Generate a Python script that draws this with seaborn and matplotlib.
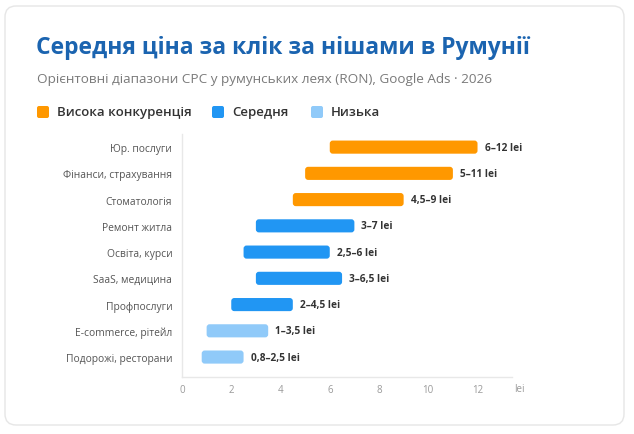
import matplotlib
matplotlib.use("Agg")
import matplotlib.pyplot as plt
from matplotlib.patches import FancyBboxPatch
import numpy as np
import pandas as pd
import seaborn as sns

# data
niches = ["Юр. послуги", "Фінанси, страхування", "Стоматологія", "Ремонт житла",
          "Освіта, курси", "SaaS, медицина", "Профпослуги", "E-commerce, рітейл",
          "Подорожі, ресторани"]
cpc_min = [6, 5, 4.5, 3, 2.5, 3, 2, 1, 0.8]
cpc_max = [12, 11, 9, 7, 6, 6.5, 4.5, 3.5, 2.5]
value_labels = ["6–12 lei", "5–11 lei", "4,5–9 lei", "3–7 lei", "2,5–6 lei",
                "3–6,5 lei", "2–4,5 lei", "1–3,5 lei", "0,8–2,5 lei"]
levels = ["Висока конкуренція"] * 3 + ["Середня"] * 4 + ["Низька"] * 2
level_names = ["Висока конкуренція", "Середня", "Низька"]
level_colors = ["#FF9800", "#2196F3", "#90CAF9"]
x_ticks = [0, 2, 4, 6, 8, 10, 12]

df = pd.DataFrame({"niche": niches, "lo": cpc_min, "hi": cpc_max,
                   "label": value_labels, "level": levels})

sns.set_theme(style="white")
plt.rcParams["font.family"] = ["Open Sans", "DejaVu Sans"]

W, H = 634, 435
fig = plt.figure(figsize=(W / 100, H / 100), dpi=100)
fig.patch.set_facecolor("white")

# card background
card = FancyBboxPatch((5, H - 426), 619, 419, boxstyle="round,pad=0,rounding_size=11",
                      transform=None, facecolor="white", edgecolor="#e6e6e6",
                      linewidth=1.0, zorder=-10)
fig.patches.append(card)

ax = fig.add_axes([182 / W, 1 - 378 / H, (512 - 182) / W, (378 - 135) / H])
ax.set_facecolor("none")
ax.set_zorder(2)

palette = dict(zip(level_names, level_colors))
sns.barplot(data=df, x="hi", y="niche", hue="level", palette=palette,
            hue_order=level_names, dodge=False, legend=False, width=0.5,
            saturation=1, ax=ax)

ax.set_xlim(0, 13.4)
ax.set_ylim(len(niches) - 0.24, -0.5)

# turn each bar into a rounded floating range bar lo..hi
px_x = (512 - 182) / 13.4
px_y = (378 - 135) / (len(niches) + 0.26)
r = 3.0 / px_x
old = list(ax.patches)
for p in old:
    idx = int(round(p.get_y() + p.get_height() / 2))
    row = df.iloc[idx]
    rb = FancyBboxPatch((row.lo, p.get_y()), row.hi - row.lo, p.get_height(),
                        boxstyle=f"round,pad=0,rounding_size={r}",
                        mutation_aspect=px_x / px_y,
                        facecolor=p.get_facecolor(), edgecolor="none", zorder=3)
    p.remove()
    ax.add_patch(rb)
    ax.text(row.hi + 7 / px_x, idx, row.label, va="center", ha="left",
            fontsize=7.3, fontweight="bold", color="#333333")

ax.set_xticks(x_ticks)
ax.set_xticklabels([str(t) for t in x_ticks])
ax.tick_params(axis="x", colors="#9a9a9a", labelsize=7, length=0, pad=5)
ax.tick_params(axis="y", colors="#555555", labelsize=7.4, length=0, pad=7)
ax.set_xlabel("")
ax.set_ylabel("")
for s in ["top", "right"]:
    ax.spines[s].set_visible(False)
for s in ["left", "bottom"]:
    ax.spines[s].set_color("#e8e8e8")
    ax.spines[s].set_linewidth(1.0)
ax.text(514 / W, 1 - 390 / H, "lei", transform=fig.transFigure, fontsize=7,
        color="#9a9a9a", va="center", ha="left")

# title block
fig.text(36 / W, 1 - 48 / H, "Середня ціна за клік за нішами в Румунії",
         fontsize=16.5, fontweight="bold", color="#1b64b0", va="center", ha="left")
fig.text(37 / W, 1 - 79 / H,
         "Орієнтовні діапазони CPC у румунських леях (RON), Google Ads · 2026",
         fontsize=9.7, color="#7a7a7a", va="center", ha="left")

# legend
leg_x = [37, 212, 311]
for x0, name, col in zip(leg_x, level_names, level_colors):
    sq = FancyBboxPatch((x0, H - 119), 12, 12, boxstyle="round,pad=0,rounding_size=2",
                        transform=None, facecolor=col, edgecolor="none")
    fig.patches.append(sq)
    fig.text((x0 + 20) / W, 1 - 113 / H, name, fontsize=9.5, fontweight="semibold",
             color="#333333", va="center", ha="left")

fig.savefig("out.png", dpi=100, facecolor="white")
